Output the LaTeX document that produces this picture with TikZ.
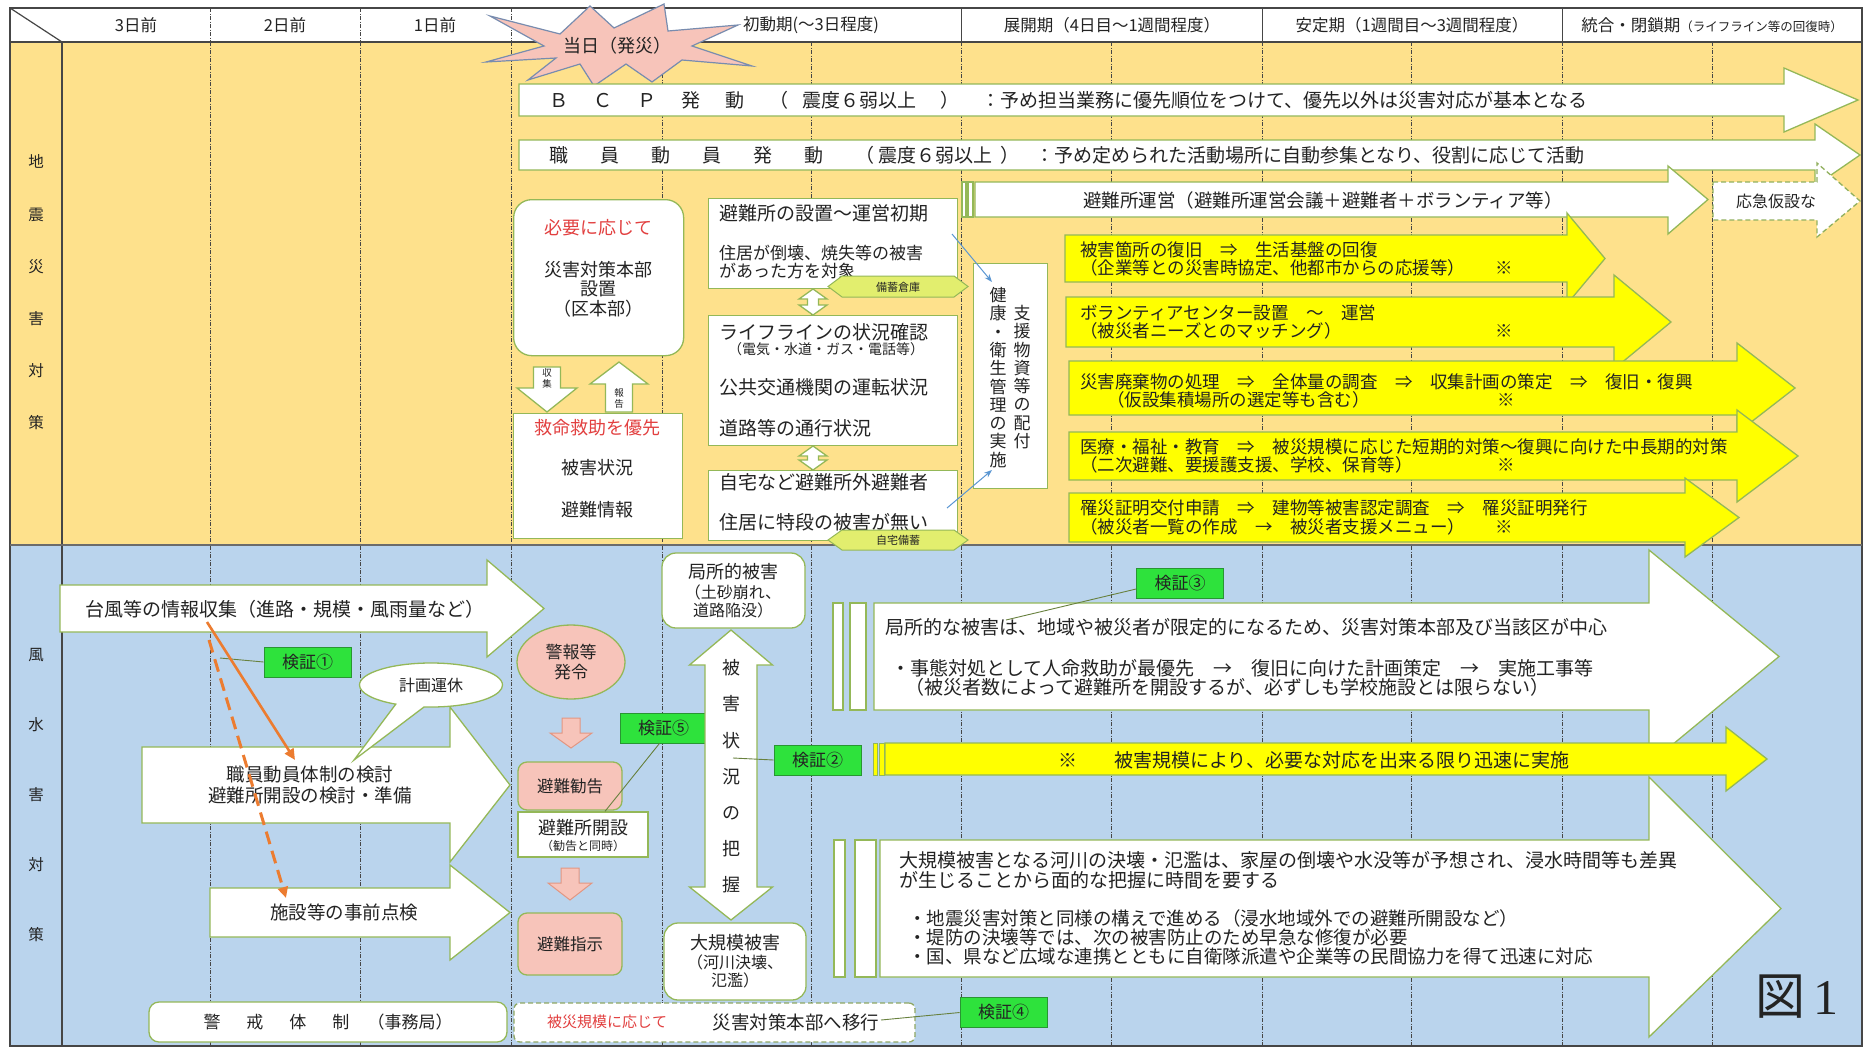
\documentclass[tikz,border=0pt]{standalone}
\usepackage{fontspec}
\setmainfont{Noto Sans CJK JP}
\newfontfamily\latinserif{Liberation Serif}
\usetikzlibrary{shapes.geometric,shapes.callouts,calc,arrows.meta}
\definecolor{bgY}{RGB}{254,225,140}
\definecolor{bgB}{RGB}{186,212,237}
\definecolor{grn}{RGB}{148,184,88}
\definecolor{yel}{RGB}{255,255,0}
\definecolor{kgr}{RGB}{46,226,60}
\definecolor{kdk}{RGB}{40,150,50}
\definecolor{pnk}{RGB}{247,196,186}
\definecolor{pnkd}{RGB}{226,150,130}
\definecolor{rtx}{RGB}{226,64,64}
\definecolor{org}{RGB}{236,124,48}
\definecolor{lbl}{RGB}{90,150,210}
\definecolor{hexf}{RGB}{226,238,110}
\definecolor{frm}{RGB}{70,70,70}
\definecolor{txt}{RGB}{35,35,35}
\definecolor{starb}{RGB}{120,140,175}
\newcommand{\fsz}[1]{\fontsize{#1}{#1}\selectfont}
\newcommand{\fszl}[2]{\fontsize{#1}{#2}\selectfont}
% horizontal block arrow: style, x1, ytop, ybot, headbase, tipx, headtop, headbot
\newcommand{\harr}[8]{\path[#1] (#2,#3) -- (#5,#3) -- (#5,#7) -- (#6,{(#3+#4)/2}) -- (#5,#8) -- (#5,#4) -- (#2,#4) -- cycle;}
% vertical block arrow: style, cx, ybase, ytip, headhalfw, shafthalfw, headstart
\newcommand{\varr}[7]{\path[#1] ({#2-#6},#3) -- ({#2+#6},#3) -- ({#2+#6},#7) -- ({#2+#5},#7) -- (#2,#4) -- ({#2-#5},#7) -- ({#2-#6},#7) -- cycle;}
% vertical double arrow: style, cx, ytoptip, ybottip, headhalfw, shafthalfw, topheadbase, botheadbase
\newcommand{\vdarr}[8]{\path[#1] (#2,#3) -- ({#2+#5},#7) -- ({#2+#6},#7) -- ({#2+#6},#8) -- ({#2+#5},#8) -- (#2,#4) -- ({#2-#5},#8) -- ({#2-#6},#8) -- ({#2-#6},#7) -- ({#2-#5},#7) -- cycle;}
\begin{document}
\begin{tikzpicture}[x=1pt,y=-1pt,
  wa/.style={fill=white,draw=grn,line width=1.3pt,line join=miter},
  ya/.style={fill=yel,draw=grn,line width=1.3pt,line join=miter},
  bx/.style={fill=white,draw=grn,line width=1.3pt,inner sep=0pt},
  t/.style={inner sep=0pt,text=txt,font=\fsz{18}},
  kb/.style={fill=kgr,draw=kdk,line width=0.8pt,minimum width=87pt,minimum height=30pt,inner sep=0pt,font=\fsz{17},text=txt},
  kl/.style={draw=grn!70!black,line width=0.9pt},
  col/.style={draw=frm,line width=0.7pt,dash pattern=on 4pt off 1.5pt on 1pt off 1.5pt},
  hx/.style={fill=hexf,draw=grn,line width=1pt},
  pk/.style={fill=pnk,draw=grn,line width=1.3pt,inner sep=0pt},
  sa/.style={fill=pnk,draw=pnkd,line width=1pt},
]
\useasboundingbox (0,0) rectangle (1863,1047);
\fill[white] (0,0) rectangle (1863,1047);
\fill[bgY] (10,42) rectangle (1863,545);
\fill[bgB] (10,545) rectangle (1863,1047);
% column lines
\foreach \x in {210,360,511,662,811,961,1111,1262,1411,1562,1712} \draw[col] (\x,42) -- (\x,1047);
\foreach \x in {210,360,511} \draw[col] (\x,8) -- (\x,42);
\foreach \x in {961,1262,1562} \draw[frm,line width=0.8pt] (\x,8) -- (\x,42);
% frame
\draw[frm,line width=1.2pt] (10,8) rectangle (1862,1046);
\draw[frm,line width=1.2pt] (10,42) -- (1862,42);
\draw[frm,line width=1.2pt] (62,42) -- (62,1046);
\draw[frm,line width=1.2pt] (10,8) -- (62,42);
\draw[frm!80,line width=2.5pt] (10,545) -- (1862,545);
% header
\node[t,font=\fsz{16.5}] (h1) at (136,25) {3日前};
\node[t,font=\fsz{16.5}] (h2) at (285,25) {2日前};
\node[t,font=\fsz{16.5}] (h3) at (435,25) {1日前};
\node[t,font=\fsz{16.5}] (h4) at (811,25) {初動期(～3日程度)};
\node[t,font=\fsz{16.5}] (h5) at (1112,25) {展開期（4日目～1週間程度）};
\node[t,font=\fsz{16.5}] (h6) at (1412,25) {安定期（1週間目～3週間程度）};
\node[t,font=\fsz{16.5}] (h7) at (1712,25) {統合・閉鎖期{\fsz{12.5}（ライフライン等の回復時）}};
% row labels
\node[t,font=\fszl{15.5}{52.2},align=center] (lq) at (36,292.5) {地\\震\\災\\害\\対\\策};
\node[t,font=\fszl{15.5}{70},align=center] (lf) at (36,795) {風\\水\\害\\対\\策};
% star
\draw[fill=pnk,draw=starb,line width=1.2pt,line join=miter] (490,16) -- (560,34) -- (590,6) -- (614,28) -- (664,4) -- (668,31) -- (738,25) -- (692,46) -- (752,66) -- (682,60) -- (652,82) -- (626,64) -- (594,86) -- (580,64) -- (528,80) -- (556,58) -- (486,62) -- (544,46) -- cycle;
\node[t] (star) at (617,46) {当日（発災）};
% ===== earthquake =====
\harr{wa}{519}{84}{116}{1784}{1858}{68}{132}
\node[t,font=\fsz{19},anchor=west] (bcp) at (549,100) {Ｂ\hspace{25pt}Ｃ\hspace{25pt}Ｐ\hspace{25pt}発\hspace{25pt}動\hspace{25pt}（\hspace{14pt}震度６弱以上\hspace{24pt}）\hspace{22pt}：予め担当業務に優先順位をつけて、優先以外は災害対応が基本となる};
\harr{wa}{519}{140}{170}{1815}{1860}{124}{186}
\node[t,font=\fsz{19},anchor=west] (shokuin) at (549,155) {職\hspace{32pt}員\hspace{32pt}動\hspace{32pt}員\hspace{32pt}発\hspace{32pt}動\hspace{32pt}（\hspace{4pt}震度６弱以上\hspace{8pt}）\hspace{16pt}：予め定められた活動場所に自動参集となり、役割に応じて活動};
% shelter management
\draw[bx] (962,182) rectangle (966,217);
\draw[bx] (968,182) rectangle (973,217);
\harr{wa}{975}{182}{217}{1668}{1708}{166}{234}
\node[t,font=\fsz{18.5}] (unei) at (1323,200) {避難所運営（避難所運営会議＋避難者＋ボランティア等）};
\harr{fill=white,draw=grn!85!gray,line width=1.3pt,dash pattern=on 5pt off 3pt}{1713}{182}{220}{1817}{1860}{163}{237}
\node[t,font=\fsz{16}] (oukyu) at (1776,201) {応急仮設な};
% yellow arrows
\harr{ya}{1065}{235}{282}{1567}{1605}{213}{304}
\node[t,font=\fsz{17.5},anchor=west] (ya1) at (1080,250) {被害箇所の復旧　⇒　生活基盤の回復};
\node[t,font=\fsz{17.5},anchor=west] (ya1b) at (1080,268) {（企業等との災害時協定、他都市からの応援等）};
\node[t,font=\fsz{17.5}] (ya1c) at (1504,268) {※};
\harr{ya}{1066}{297}{347}{1614}{1671}{275}{369}
\node[t,font=\fsz{17.5},anchor=west] (ya2) at (1080,313) {ボランティアセンター設置　～　運営};
\node[t,font=\fsz{17.5},anchor=west] (ya2b) at (1080,331) {（被災者ニーズとのマッチング）};
\node[t,font=\fsz{17.5}] (ya2c) at (1504,331) {※};
\harr{ya}{1069}{361}{415}{1737}{1795}{343}{433}
\node[t,font=\fsz{17.5},anchor=west] (ya3) at (1080,382) {災害廃棄物の処理　⇒　全体量の調査　⇒　収集計画の策定　⇒　復旧・復興};
\node[t,font=\fsz{17.5},anchor=west] (ya3b) at (1107,400) {（仮設集積場所の選定等も含む）};
\node[t,font=\fsz{17.5}] (ya3c) at (1506,400) {※};
\harr{ya}{1069}{432}{480}{1737}{1798}{410}{502}
\node[t,font=\fsz{17.5},anchor=west] (ya4) at (1080,447) {医療・福祉・教育　⇒　被災規模に応じた短期的対策～復興に向けた中長期的対策};
\node[t,font=\fsz{17.5},anchor=west] (ya4b) at (1080,465) {（二次避難、要援護支援、学校、保育等）};
\node[t,font=\fsz{17.5}] (ya4c) at (1506,465) {※};
\harr{ya}{1069}{493}{542}{1685}{1739}{478}{557}
\node[t,font=\fsz{17.5},anchor=west] (ya5) at (1080,508) {罹災証明交付申請　⇒　建物等被害認定調査　⇒　罹災証明発行};
\node[t,font=\fsz{17.5},anchor=west] (ya5b) at (1080,527) {（被災者一覧の作成　→　被災者支援メニュー）};
\node[t,font=\fsz{17.5}] (ya5c) at (1504,527) {※};
% HQ box
\node[bx,rounded corners=18pt,minimum width=170pt,minimum height=156pt,anchor=north west] (hq) at (513,199) {};
\node[t,text=rtx] (hq1) at (598,228) {必要に応じて};
\node[t,font=\fszl{18}{19.5},align=center] (hq2) at (598,289) {災害対策本部\\設置\\（区本部）};
\varr{wa}{547}{367}{412}{30}{13.5}{388}
\node[t,font=\fszl{9.5}{11},align=center] (shu) at (547,378) {収\\集};
\varr{wa}{619}{412}{362}{29}{13.5}{384}
\node[t,font=\fszl{9.5}{11},align=center] (hou) at (619,398) {報\\告};
\node[bx,minimum width=169pt,minimum height=125pt,anchor=north west] (kyu) at (513,413) {};
\node[t,text=rtx] (kyu1) at (597,428) {救命救助を優先};
\node[t] (kyu2) at (597,468) {被害状況};
\node[t] (kyu3) at (597,510) {避難情報};
% shelter boxes
\node[bx,minimum width=249pt,minimum height=90pt,anchor=north west] (hs) at (708,198) {};
\node[t,anchor=west,font=\fsz{19}] (hs1) at (719,213) {避難所の設置～運営初期};
\node[t,anchor=west,font=\fsz{17}] (hs2) at (719,253) {住居が倒壊、焼失等の被害};
\node[t,anchor=west,font=\fsz{17}] (hs3) at (719,271) {があった方を対象};
\node[bx,minimum width=249pt,minimum height=130pt,anchor=north west] (ll) at (708,315) {};
\node[t,anchor=west,font=\fsz{19}] (ll1) at (719,332) {ライフラインの状況確認};
\node[t,anchor=west,font=\fsz{14}] (ll2) at (728,349) {（電気・水道・ガス・電話等）};
\node[t,anchor=west,font=\fsz{19}] (ll3) at (719,387) {公共交通機関の運転状況};
\node[t,anchor=west,font=\fsz{19}] (ll4) at (719,428) {道路等の通行状況};
\node[bx,minimum width=249pt,minimum height=70pt,anchor=north west] (jt) at (708,470) {};
\node[t,anchor=west,font=\fsz{19}] (jt1) at (719,482) {自宅など避難所外避難者};
\node[t,anchor=west,font=\fsz{19}] (jt2) at (719,522) {住居に特段の被害が無い};
\vdarr{wa}{813}{289}{315}{14}{5.5}{299}{305}
\vdarr{wa}{813}{446}{470}{14}{5.5}{456}{460}
\path[hx] (828,286.5) -- (842,276) -- (954,276) -- (968,286.5) -- (954,297) -- (842,297) -- cycle;
\node[t,font=\fsz{11}] (bichiku) at (898,287) {備蓄倉庫};
\path[hx] (828,540) -- (842,530) -- (954,530) -- (968,540) -- (954,550) -- (842,550) -- cycle;
\node[t,font=\fsz{11}] (jitaku) at (898,540) {自宅備蓄};
% health box
\node[bx,minimum width=74pt,minimum height=225pt,anchor=north west] (kenko) at (973,263) {};
\node[t,font=\fszl{17}{18.3},align=center] (kc1) at (998,377.5) {健\\康\\・\\衛\\生\\管\\理\\の\\実\\施};
\node[t,font=\fszl{17}{18.3},align=center] (kc2) at (1022,377) {支\\援\\物\\資\\等\\の\\配\\付};
\coordinate (b1s) at (952,234); \coordinate (b1e) at (992,282);
\coordinate (b2s) at (947,508); \coordinate (b2e) at (992,470);
\draw[lbl,line width=1pt,-{Stealth[length=8pt,width=6pt]}] (b1s) -- (b1e);
\draw[lbl,line width=1pt,-{Stealth[length=8pt,width=6pt]}] (b2s) -- (b2e);
% ===== flood =====
\harr{wa}{60}{585}{632}{487}{544}{560}{657}
\node[t,font=\fsz{19}] (taifu) at (285,609) {台風等の情報収集（進路・規模・風雨量など）};
\node[kb] (k1) at (307.5,662) {検証①};
\coordinate (k1p) at (220,658);
\draw[kl] (k1.west) -- (k1p);
\harr{wa}{142}{747}{823}{450}{510}{707}{862}
\node[t,font=\fszl{18.5}{21},align=center] (taisei) at (310,785) {職員動員体制の検討\\避難所開設の検討・準備};
\harr{wa}{210}{888}{937}{450}{510}{865}{960}
\node[t,font=\fsz{18.5}] (shisetsu) at (344,912) {施設等の事前点検};
\node[ellipse callout,fill=white,draw=grn,line width=1.3pt,minimum width=143pt,minimum height=44pt,inner sep=0pt,callout absolute pointer={(354,760)},callout pointer arc=24,font=\fsz{16},text=txt] (keikaku) at (431,685) {計画運休};
\coordinate (o1s) at (207,622); \coordinate (o1e) at (295,760);
\draw[org,line width=2.6pt,-{Triangle[length=11pt,width=10pt]}] (o1s) -- (o1e);
\coordinate (o2s) at (209,640); \coordinate (o2e) at (286,898);
\draw[org,line width=3pt,dash pattern=on 13pt off 7pt,-{Triangle[length=11pt,width=10pt]}] (o2s) -- (o2e);
% warnings column
\node[ellipse,pk,minimum width=108pt,minimum height=74pt,font=\fszl{17}{19.5},align=center,text=txt] (keiho) at (571,662) {警報等\\発令};
\varr{sa}{571}{718}{748}{21}{9}{733}
\node[pk,rounded corners=9pt,minimum width=104pt,minimum height=48pt,font=\fsz{16.5},text=txt] (kankoku) at (570,786) {避難勧告};
\node[bx,minimum width=130pt,minimum height=45pt] (kaisetsu) at (583,834.5) {};
\node[t,font=\fsz{18}] (kai1) at (583,828) {避難所開設};
\node[t,font=\fsz{12}] (kai2) at (583,846) {（勧告と同時）};
\varr{sa}{570}{868}{900}{22}{9}{883}
\node[pk,rounded corners=9pt,minimum width=104pt,minimum height=62pt,font=\fsz{16.5},text=txt] (shiji) at (570,944) {避難指示};
\node[kb] (k5) at (663.5,728) {検証⑤};
\draw[kl] ($(k5.south)+(-4,0)$) -- ($(kaisetsu.north)+(22,0)$);
% damage assessment
\node[bx,rounded corners=14pt,minimum width=143pt,minimum height=75pt] (kyokusho) at (733.5,590.5) {};
\node[t,font=\fsz{18}] (kyo1) at (733,572) {局所的被害};
\node[t,font=\fsz{16}] (kyo2) at (733,592) {（土砂崩れ、};
\node[t,font=\fsz{16}] (kyo3) at (733,610) {道路陥没）};
\vdarr{wa}{731}{630}{920}{41.5}{26}{665}{887}
\node[t,font=\fszl{18}{36.2},align=center] (haaku) at (731,776.5) {被\\害\\状\\況\\の\\把\\握};
\node[bx,rounded corners=14pt,minimum width=142pt,minimum height=77pt] (daikibo) at (735,961.5) {};
\node[t,font=\fsz{18}] (dai1) at (735,943) {大規模被害};
\node[t,font=\fsz{16}] (dai2) at (735,962) {（河川決壊、};
\node[t,font=\fsz{16}] (dai3) at (735,980) {氾濫）};
\node[kb] (k2) at (817.5,760) {検証②};
\coordinate (k2p) at (733,758);
\draw[kl] (k2.west) -- (k2p);
% big arrow 1
\draw[bx] (833,603) rectangle (843,710);
\draw[bx] (850,603) rectangle (866,710);
\harr{wa}{874}{603}{710}{1649}{1779}{550}{764}
\node[t,font=\fsz{19},anchor=west] (ba1) at (885,627) {局所的な被害は、地域や被災者が限定的になるため、災害対策本部及び当該区が中心};
\node[t,font=\fsz{19},anchor=west] (ba2) at (891,668) {・事態対処として人命救助が最優先　→　復旧に向けた計画策定　→　実施工事等};
\node[t,font=\fsz{19},anchor=west] (ba3) at (905,687) {（被災者数によって避難所を開設するが、必ずしも学校施設とは限らない）};
\node[kb] (k3) at (1180,583) {検証③};
\coordinate (k3p) at (1006,620);
\draw[kl] ($(k3.west)+(0,6)$) -- (k3p);
% yellow note arrow
\draw[fill=yel,draw=grn,line width=1pt] (873,743) rectangle (877,775);
\draw[fill=yel,draw=grn,line width=1pt] (879,743) rectangle (884,775);
\harr{ya}{885}{743}{775}{1726}{1767}{727}{791}
\node[t,font=\fsz{19},anchor=west] (kibo) at (1058,760) {※\hspace{37pt}被害規模により、必要な対応を出来る限り迅速に実施};
% big arrow 2
\draw[bx] (834,840) rectangle (845,977);
\draw[bx] (855,840) rectangle (876,977);
\harr{wa}{880}{840}{977}{1649}{1781}{777}{1037}
\node[t,font=\fsz{19},anchor=west] (bb1) at (899,860) {大規模被害となる河川の決壊・氾濫は、家屋の倒壊や水没等が予想され、浸水時間等も差異};
\node[t,font=\fsz{19},anchor=west] (bb2) at (899,880) {が生じることから面的な把握に時間を要する};
\node[t,font=\fsz{18.5},anchor=west] (bb3) at (908,918) {・地震災害対策と同様の構えで進める（浸水地域外での避難所開設など）};
\node[t,font=\fsz{18.5},anchor=west] (bb4) at (908,937) {・堤防の決壊等では、次の被害防止のため早急な修復が必要};
\node[t,font=\fsz{18.5},anchor=west] (bb5) at (908,956) {・国、県など広域な連携とともに自衛隊派遣や企業等の民間協力を得て迅速に対応};
% bottom row
\node[bx,rounded corners=10pt,minimum width=358pt,minimum height=40pt,font=\fsz{17},text=txt] (keikai) at (328,1022) {警\hspace{26pt}戒\hspace{26pt}体\hspace{26pt}制\hspace{18pt}（事務局）};
\node[fill=white,draw=grn!70!gray,line width=1.3pt,dash pattern=on 5pt off 3pt,rounded corners=6pt,minimum width=401pt,minimum height=39pt,inner sep=0pt] (ikou) at (714.5,1022.5) {};
\node[t,font=\fsz{15},text=rtx] (ikou1) at (607,1022) {被災規模に応じて};
\node[t,font=\fsz{18.5}] (ikou2) at (796,1022) {災害対策本部へ移行};
\node[kb] (k4) at (1003.5,1012.5) {検証④};
\coordinate (k4p) at (881,1020);
\draw[kl] (k4.west) -- (k4p);
\node[t,font=\fsz{50}] (zu) at (1797,997) {図{\latinserif\,1}};
\end{tikzpicture}
\end{document}
